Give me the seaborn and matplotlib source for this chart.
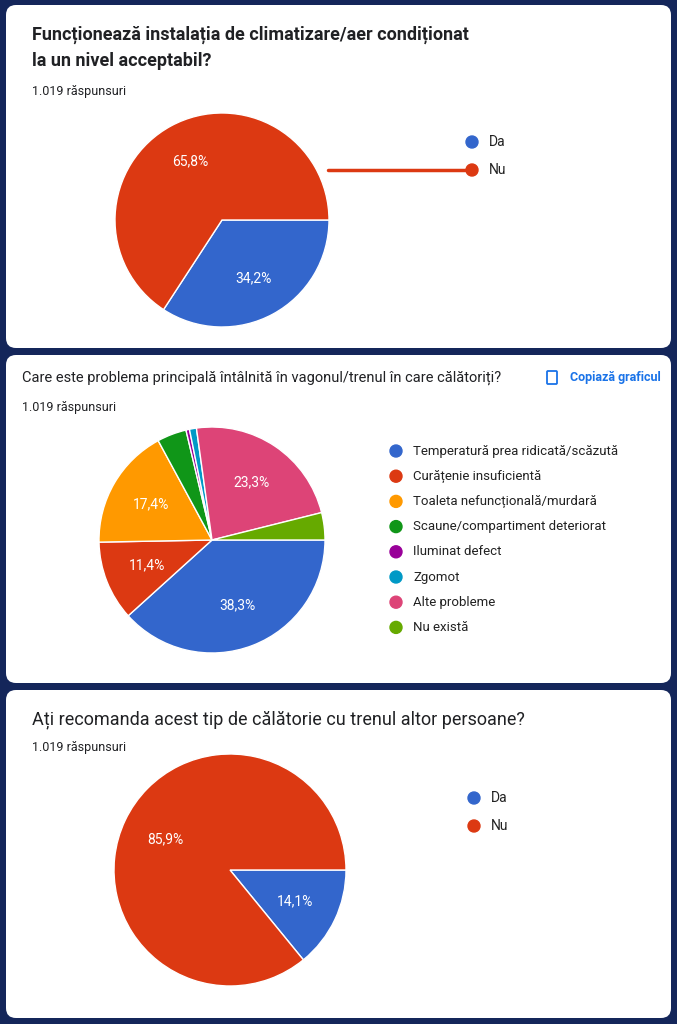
import numpy as np
import seaborn as sns
import matplotlib.pyplot as plt
from matplotlib.patches import FancyBboxPatch, Circle

q1_title = "Funcționează instalația de climatizare/aer condiționat\nla un nivel acceptabil?"
q1_labels = ["Da", "Nu"]
q1_values = [34.2, 65.8]

q2_title = "Care este problema principală întâlnită în vagonul/trenul în care călătoriți?"
q2_labels = ["Temperatură prea ridicată/scăzută", "Curățenie insuficientă",
             "Toaleta nefuncțională/murdară", "Scaune/compartiment deteriorat",
             "Iluminat defect", "Zgomot", "Alte probleme", "Nu există"]
q2_values = [38.3, 11.4, 17.4, 4.2, 0.5, 1.0, 23.3, 3.9]

q3_title = "Ați recomanda acest tip de călătorie cu trenul altor persoane?"
q3_labels = ["Da", "Nu"]
q3_values = [14.1, 85.9]

responses = "1.019 răspunsuri"

sns.set_style("white")
plt.rcParams['font.family'] = ['Roboto', 'DejaVu Sans']
pal = ["#3366cc", "#dc3912", "#ff9900", "#109618", "#990099", "#0099c6", "#dd4477", "#66aa00"]

W, H = 677, 1024
fig = plt.figure(figsize=(W / 100, H / 100), dpi=100, facecolor="#14265a")
bg = fig.add_axes([0, 0, 1, 1])
bg.set_xlim(0, W); bg.set_ylim(H, 0); bg.axis("off")

def panel(y0, y1):
    bg.add_patch(FancyBboxPatch((6, y0), W - 12, y1 - y0, boxstyle="round,pad=0,rounding_size=10",
                                fc="white", ec="none"))

def pie(cx, cy, r, vals, colors, labels_pct):
    ax = fig.add_axes([(cx - r) / W, 1 - (cy + r) / H, 2 * r / W, 2 * r / H])
    wedges, texts = ax.pie(vals, colors=colors, startangle=0, counterclock=False,
                           wedgeprops=dict(edgecolor="white", linewidth=1))
    ax.set_aspect("equal"); ax.set_xlim(-1, 1); ax.set_ylim(-1, 1)
    ang = 0.0
    tot = sum(vals)
    for v in vals:
        mid = np.deg2rad(-(ang + v / tot * 180))
        if v >= 10:
            ax.text(0.62 * np.cos(mid), 0.62 * np.sin(mid), f"{v:.1f}%".replace(".", ","),
                    color="white", ha="center", va="center", fontsize=10)
        ang += v / tot * 360
    return ax

def legend(x, y, labels, colors, dy, fs=10):
    for i, (lab, c) in enumerate(zip(labels, colors)):
        bg.add_patch(Circle((x, y + i * dy), 6, color=c))
        bg.text(x + 17, y + i * dy, lab, va="center", fontsize=fs, color="#222222")

# Panel 1
panel(5, 348)
bg.text(32, 48, q1_title, fontsize=13, weight="bold", va="center", color="#202124", linespacing=1.6)
bg.text(32, 92, responses, fontsize=9, va="center", color="#202124")
pie(222, 220, 107, q1_values, pal[:2], True)
bg.plot([328, 470], [170, 170], color=pal[1], lw=2.5)
legend(472, 142, q1_labels, pal[:2], 28)

# Panel 2
panel(355, 683)
bg.text(22, 378, q2_title, fontsize=10.5, va="center", color="#202124")
bg.text(22, 408, responses, fontsize=9, va="center", color="#202124")
bg.text(570, 378, "Copiază graficul", fontsize=9, weight="bold", va="center", color="#1a73e8")
bg.add_patch(FancyBboxPatch((547, 371), 10, 13, boxstyle="round,pad=0,rounding_size=1",
                            fc="none", ec="#1a73e8", lw=1.3))
pie(212, 540, 113, q2_values, pal, True)
legend(396, 451, q2_labels, pal, 25.2, fs=9.5)

# Panel 3
panel(690, 1018)
bg.text(32, 720, q3_title, fontsize=13, va="center", color="#202124")
bg.text(32, 748, responses, fontsize=9, va="center", color="#202124")
pie(230, 870, 116, q3_values, pal[:2], True)
legend(474, 798, q3_labels, pal[:2], 28)

fig.savefig("out.png", dpi=100, facecolor=fig.get_facecolor())
